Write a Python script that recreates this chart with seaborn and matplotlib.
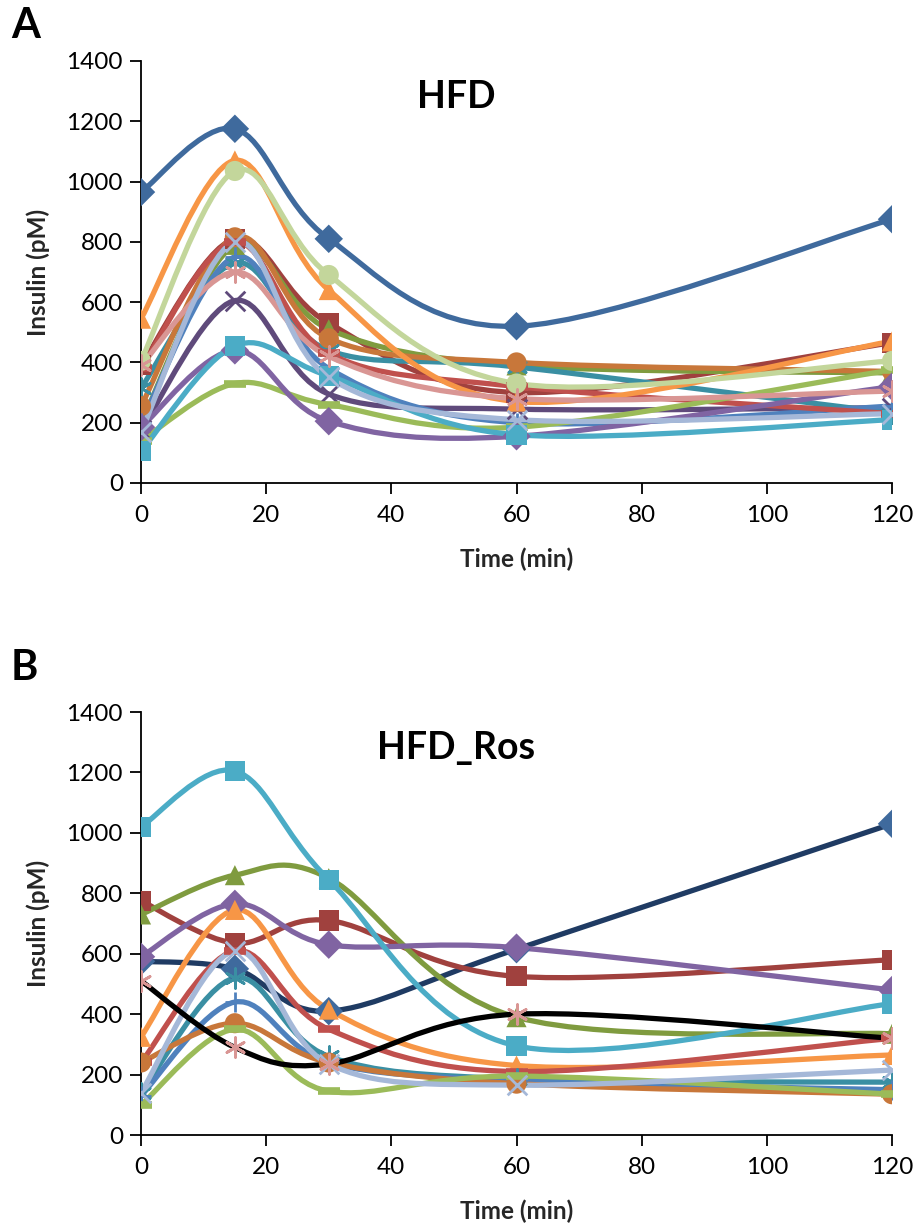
import numpy as np
import matplotlib
matplotlib.use("Agg")
import matplotlib.pyplot as plt
from matplotlib.path import Path
from matplotlib.patches import PathPatch
import seaborn as sns

# ─── DATA ─────────────────────────────────────────────────────────────────────
TIME = [0, 15, 30, 60, 120]

# panel A : HFD (insulin, pM)
hfd_01 = [965, 1175, 810, 520, 875]
hfd_02 = [390, 810, 530, 300, 465]
hfd_03 = [200, 790, 510, 390, 365]
hfd_04 = [175, 605, 295, 245, 250]
hfd_05 = [315, 730, 440, 385, 232]
hfd_06 = [255, 815, 480, 400, 370]
hfd_07 = [200, 750, 380, 200, 255]
hfd_08 = [380, 800, 430, 320, 230]
hfd_09 = [140, 330, 260, 185, 375]
hfd_10 = [185, 440, 205, 155, 320]
hfd_11 = [105, 455, 355, 160, 210]
hfd_12 = [545, 1070, 640, 270, 470]
hfd_13 = [405, 1035, 690, 330, 405]
hfd_14 = [390, 700, 420, 280, 305]
hfd_15 = [170, 800, 350, 210, 230]

# panel B : HFD_Ros (insulin, pM)
ros_01 = [575, 550, 410, 615, 1030]
ros_02 = [775, 635, 710, 525, 580]
ros_03 = [730, 860, 850, 390, 335]
ros_04 = [590, 765, 630, 620, 480]
ros_05 = [1020, 1205, 845, 295, 435]
ros_06 = [325, 745, 415, 230, 265]
ros_07 = [240, 610, 350, 210, 320]
ros_08 = [140, 520, 260, 185, 175]
ros_09 = [130, 440, 240, 180, 150]
ros_10 = [240, 370, 240, 170, 135]
ros_11 = [100, 350, 145, 195, 135]
ros_12 = [140, 610, 235, 165, 215]
ros_13 = [510, 290, 235, 400, 320]

HFD_SERIES = [hfd_01, hfd_02, hfd_03, hfd_04, hfd_05, hfd_06, hfd_07, hfd_08,
              hfd_09, hfd_10, hfd_11, hfd_12, hfd_13, hfd_14, hfd_15]
ROS_SERIES = [ros_01, ros_02, ros_03, ros_04, ros_05, ros_06, ros_07, ros_08,
              ros_09, ros_10, ros_11, ros_12, ros_13]

# ─── STYLE ────────────────────────────────────────────────────────────────────
ASTER = (6, 2, 0)
LINE_MARKERS = ("x", "+", "_", ASTER)
# (line colour, marker colour, marker)
HFD_STYLE = [
    ("#3F6A9D", "#3F6A9D", "D"),
    ("#A0413E", "#A0413E", "s"),
    ("#7F9B3F", "#7F9B3F", "^"),
    ("#5F4A7B", "#5F4A7B", "x"),
    ("#3A8FA3", "#3A8FA3", ASTER),
    ("#C8773A", "#C8773A", "o"),
    ("#4F81BD", "#4F81BD", "+"),
    ("#C0504D", "#C0504D", "_"),
    ("#9BBB59", "#9BBB59", "_"),
    ("#8064A2", "#8064A2", "D"),
    ("#4BACC6", "#4BACC6", "s"),
    ("#F79646", "#F79646", "^"),
    ("#C3D69B", "#C3D69B", "o"),
    ("#D99694", "#D99694", ASTER),
    ("#A5B8D8", "#A5B8D8", "x"),
]
ROS_STYLE = [
    ("#1F3B63", "#3F6A9D", "D"),
    ("#A0413E", "#A0413E", "s"),
    ("#7F9B3F", "#7F9B3F", "^"),
    ("#8064A2", "#8064A2", "D"),
    ("#4BACC6", "#4BACC6", "s"),
    ("#F79646", "#F79646", "^"),
    ("#C0504D", "#C0504D", "_"),
    ("#3A8FA3", "#3A8FA3", ASTER),
    ("#4F81BD", "#4F81BD", "+"),
    ("#C8773A", "#C8773A", "o"),
    ("#9BBB59", "#9BBB59", "_"),
    ("#A5B8D8", "#A5B8D8", "x"),
    ("#000000", "#D99694", ASTER),
]

sns.set_theme(style="ticks")
plt.rcParams["font.family"] = ["Lato", "DejaVu Sans"]
plt.rcParams["text.color"] = "black"


def smooth_path(xs, ys):
    """Excel-like smoothed line: cubic Bezier through every point."""
    pts = np.column_stack([xs, ys]).astype(float)
    n = len(pts)
    verts = [pts[0]]
    codes = [Path.MOVETO]
    for i in range(n - 1):
        p0 = pts[max(i - 1, 0)]
        p1 = pts[i]
        p2 = pts[i + 1]
        p3 = pts[min(i + 2, n - 1)]
        verts += [p1 + (p2 - p0) / 6, p2 - (p3 - p1) / 6, p2]
        codes += [Path.CURVE4] * 3
    return Path(verts, codes)


def draw_panel(ax, series, styles, title):
    for ys, (lc, mc, mk) in zip(series, styles):
        ax.add_patch(PathPatch(smooth_path(TIME, ys), fill=False,
                               edgecolor=lc, lw=3.8, capstyle="round",
                               joinstyle="round"))
        line_marker = mk in LINE_MARKERS
        if mk == "_":
            size, lw = 260, 5.5
        elif line_marker:
            size, lw = 200, 2.0
        else:
            size, lw = 210, 0
        sns.scatterplot(x=TIME, y=ys, ax=ax, marker=mk, color=mc, s=size,
                        linewidth=lw, edgecolor=mc if line_marker else "none",
                        zorder=3, legend=False)
    ax.set_xlim(0, 120)
    ax.set_ylim(0, 1400)
    ax.set_xticks(range(0, 121, 20))
    ax.set_yticks(range(0, 1401, 200))
    ax.margins(0)
    for side in ("top", "right"):
        ax.spines[side].set_visible(False)
    for side in ("left", "bottom"):
        ax.spines[side].set_color("black")
        ax.spines[side].set_linewidth(1.3)
    ax.tick_params(axis="both", direction="out", length=8, width=1.3,
                   colors="black", labelsize=17.5)
    ax.tick_params(axis="x", pad=8)
    ax.tick_params(axis="y", pad=5)
    ax.set_xlabel("Time (min)", fontsize=17.5, fontweight="bold", labelpad=15)
    ax.set_ylabel("Insulin (pM)", fontsize=17.5, fontweight="bold", labelpad=12)
    ax.text(0.42, 0.955, title, transform=ax.transAxes, ha="center",
            va="top", fontsize=27, fontweight="bold")
    for lbl in ax.get_xticklabels() + ax.get_yticklabels():
        lbl.set_clip_on(False)


fig = plt.figure(figsize=(9.18, 12.24), dpi=100)
ax_a = fig.add_axes([0.1536, 0.6054, 0.8181, 0.3448])
ax_b = fig.add_axes([0.1536, 0.0727, 0.8181, 0.3456])
for ax in (ax_a, ax_b):
    ax.set_facecolor("white")

draw_panel(ax_a, HFD_SERIES, HFD_STYLE, "HFD")
draw_panel(ax_b, ROS_SERIES, ROS_STYLE, "HFD_Ros")

fig.text(0.012, 0.979, "A", fontsize=30, fontweight="bold", va="center")
fig.text(0.012, 0.454, "B", fontsize=30, fontweight="bold", va="center")

fig.savefig("out.png", dpi=100, facecolor="white")
